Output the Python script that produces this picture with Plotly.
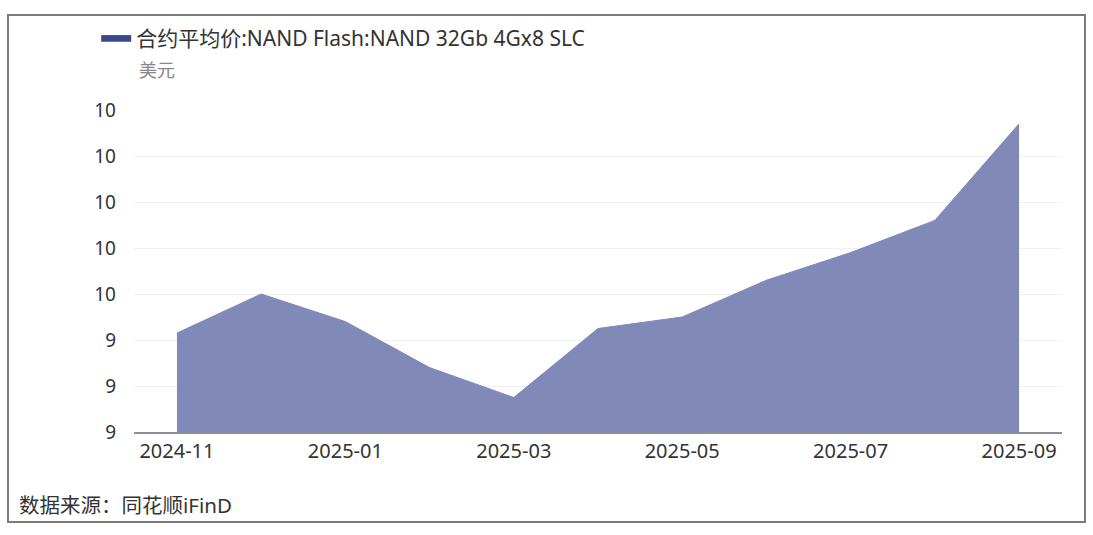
import plotly.graph_objects as go

months = ["2024-11", "2024-12", "2025-01", "2025-02", "2025-03", "2025-04",
          "2025-05", "2025-06", "2025-07", "2025-08", "2025-09"]
prices = [9.43, 9.60, 9.48, 9.28, 9.15, 9.45, 9.50, 9.66, 9.78, 9.92, 10.34]
x_ticks = ["2024-11", "2025-01", "2025-03", "2025-05", "2025-07", "2025-09"]
y_tickvals = [9.0, 9.2, 9.4, 9.6, 9.8, 10.0, 10.2, 10.4]
y_ticktext = ["9", "9", "9", "10", "10", "10", "10", "10"]
series_name = "合约平均价:NAND Flash:NAND 32Gb 4Gx8 SLC"
unit = "美元"
source = "数据来源：同花顺iFinD"

FONT = "Noto Sans, Noto Sans CJK SC, sans-serif"

fig = go.Figure()
fig.add_trace(go.Scatter(
    x=months, y=prices, mode="lines", fill="tozeroy",
    fillcolor="rgb(128,137,184)", line=dict(color="rgb(128,137,184)", width=1),
    showlegend=False, hoverinfo="x+y"))
fig.add_trace(go.Scatter(
    x=[None], y=[None], mode="lines", fill="tozeroy", name=series_name,
    fillcolor="rgb(60,72,140)", line=dict(color="rgb(60,72,140)", width=1),
    showlegend=True))

fig.update_layout(
    width=1093, height=535,
    margin=dict(l=134, r=31, t=110, b=103),
    paper_bgcolor="white", plot_bgcolor="white",
    font=dict(family=FONT, size=19, color="#333333"),
    showlegend=True,
    legend=dict(xref="container", yref="container", x=0.088, y=1 - 38 / 535,
                xanchor="left", yanchor="middle", orientation="h",
                font=dict(size=21, color="#333333"), itemwidth=30,
                bgcolor="rgba(0,0,0,0)"),
    xaxis=dict(type="category", range=[-0.51, 10.51],
               tickmode="array", tickvals=x_ticks, ticktext=x_ticks,
               showgrid=False, showline=True, linecolor="#8a8f99", linewidth=1.5,
               ticks="", tickfont=dict(size=20, color="#333333"), ticklen=0),
    yaxis=dict(range=[9.0, 10.4], tickmode="array", tickvals=y_tickvals,
               ticktext=y_ticktext, showgrid=True, gridcolor="#eef0f4",
               zeroline=False, showline=False, ticks="", ticklabelstandoff=17,
               tickfont=dict(size=19, color="#333333")),
    annotations=[
        dict(text=unit, xref="paper", yref="paper", x=0.003, y=1.0,
             yshift=40, xanchor="left", yanchor="middle",
             showarrow=False, font=dict(size=18, color="#888888")),
        dict(text=source, xref="paper", yref="paper", x=-117 / 928, y=0,
             yshift=-73, xanchor="left", yanchor="middle",
             showarrow=False, font=dict(size=20.5, color="#333333")),
    ],
    shapes=[dict(type="rect", xref="paper", yref="paper",
                 x0=-126 / 928, x1=(1085 - 134) / 928,
                 y0=-(522 - 432) / 322, y1=(432 - 15) / 322,
                 line=dict(color="#7a7a7a", width=2), layer="above")],
)

fig.write_html("out.html", config={"displayModeBar": False},
               post_script="document.body.style.margin='0';")
